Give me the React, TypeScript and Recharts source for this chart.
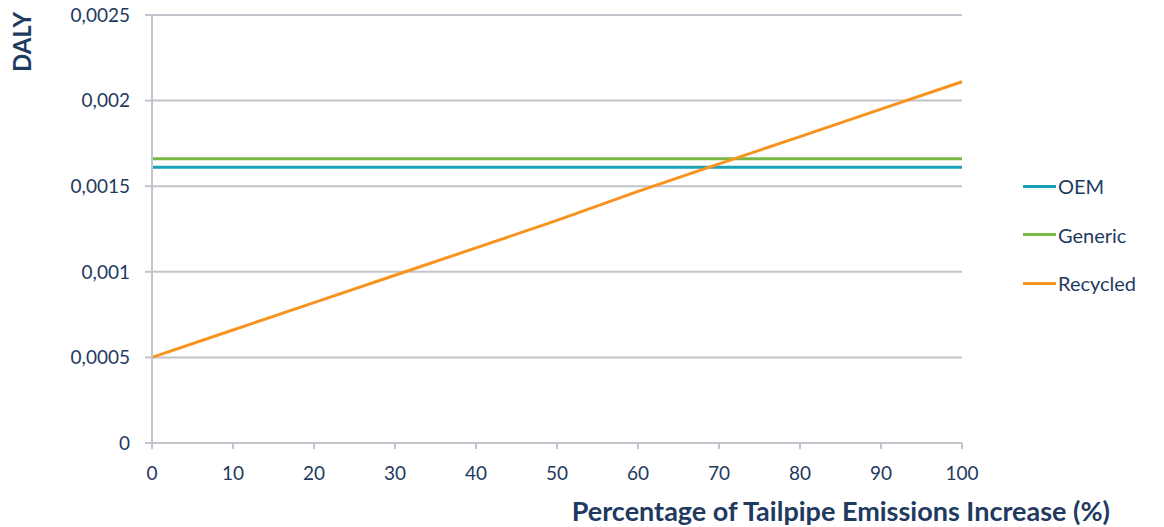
import React from "react";
import { LineChart, Line, XAxis, YAxis, CartesianGrid, Label } from "recharts";

// Tailpipe emissions increase (%) on the x axis
const increase = [0, 10, 20, 30, 40, 50, 60, 70, 80, 90, 100];
// DALY per scenario
const oem = [0.00161, 0.00161, 0.00161, 0.00161, 0.00161, 0.00161, 0.00161, 0.00161, 0.00161, 0.00161, 0.00161];
const generic = [0.00166, 0.00166, 0.00166, 0.00166, 0.00166, 0.00166, 0.00166, 0.00166, 0.00166, 0.00166, 0.00166];
const recycled = [0.0005, 0.00066, 0.00082, 0.00098, 0.00114, 0.0013, 0.00147, 0.00163, 0.00179, 0.00195, 0.00211];

const xTicks = [0, 10, 20, 30, 40, 50, 60, 70, 80, 90, 100];
const yTicks = [0, 0.0005, 0.001, 0.0015, 0.002, 0.0025];

const series = [
  { key: "OEM", color: "#1ba1b6" },
  { key: "Generic", color: "#79b845" },
  { key: "Recycled", color: "#f7941f" },
];

const data = increase.map((x, i) => ({
  x,
  OEM: oem[i],
  Generic: generic[i],
  Recycled: recycled[i],
}));

const TEXT = "#1f3a5f";
const GRID = "#c3c3cb";
const FONT = "Lato, 'Open Sans', sans-serif";

const fmtY = (v: number) => (v === 0 ? "0" : String(+v.toFixed(4)).replace(".", ","));

const LegendBox = () => (
  <div
    style={{
      position: "absolute",
      left: 1023,
      top: 162,
      fontFamily: FONT,
      color: TEXT,
      fontSize: 20,
    }}
  >
    {series.map((s) => (
      <div key={s.key} style={{ display: "flex", alignItems: "center", height: 48.5 }}>
        <div style={{ width: 33, height: 3, background: s.color, marginRight: 2 }} />
        <span>{s.key}</span>
      </div>
    ))}
  </div>
);

export default function App() {
  return (
    <div style={{ position: "absolute", left: 0, top: 0, width: 1164, height: 527, background: "#fff" }}>
      <LineChart
        width={1164}
        height={527}
        data={data}
        margin={{ top: 15, right: 202, bottom: 0, left: 0 }}
      >
        <CartesianGrid horizontal vertical={false} stroke={GRID} strokeWidth={2} />
        <XAxis
          dataKey="x"
          type="number"
          domain={[0, 100]}
          ticks={xTicks}
          interval={0}
          stroke={GRID}
          strokeWidth={2}
          tickSize={6}
          tickMargin={18}
          tick={{ fill: TEXT, fontSize: 19, fontFamily: FONT }}
          height={84}
        >
          <Label
            content={({ viewBox }: any) => (
              <text
                x={viewBox.x + viewBox.width + 148}
                y={viewBox.y + 78}
                textAnchor="end"
                fill={TEXT}
                fontSize={27}
                fontWeight="bold"
                fontFamily={FONT}
              >
                Percentage of Tailpipe Emissions Increase (%)
              </text>
            )}
          />
        </XAxis>
        <YAxis
          type="number"
          domain={[0, 0.0025]}
          ticks={yTicks}
          interval={0}
          width={152}
          stroke={GRID}
          strokeWidth={2}
          tickSize={7}
          tickMargin={15}
          tickFormatter={fmtY}
          tick={{ fill: TEXT, fontSize: 19, fontFamily: FONT }}
        >
          <Label
            content={() => (
              <text
                x={0}
                y={0}
                transform="translate(31,42) rotate(-90)"
                textAnchor="middle"
                fill={TEXT}
                fontSize={24}
                fontWeight="bold"
                fontFamily={FONT}
              >
                DALY
              </text>
            )}
          />
        </YAxis>
        {series.map((s) => (
          <Line
            key={s.key}
            type="linear"
            dataKey={s.key}
            stroke={s.color}
            strokeWidth={3}
            dot={false}
            activeDot={false}
            isAnimationActive={false}
          />
        ))}
      </LineChart>
      <LegendBox />
    </div>
  );
}
